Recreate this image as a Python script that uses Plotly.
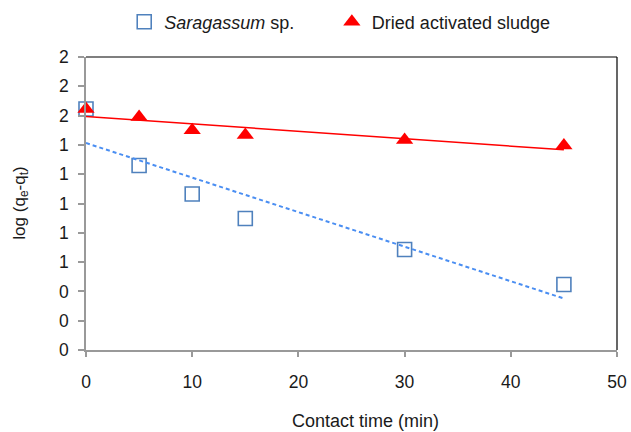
import numpy as np
import plotly.graph_objects as go

# Data
time_min = [0, 5, 10, 15, 30, 45]
saragassum = [1.645, 1.259, 1.065, 0.898, 0.686, 0.447]
sludge = [1.645, 1.59, 1.50, 1.468, 1.433, 1.396]
y_tick_vals = [0, 0.2, 0.4, 0.6, 0.8, 1.0, 1.2, 1.4, 1.6, 1.8, 2.0]
y_tick_text = ["0", "0", "0", "1", "1", "1", "1", "1", "2", "2", "2"]
x_tick_vals = [0, 10, 20, 30, 40, 50]

FONT = "Liberation Sans, Arial, sans-serif"
BLUE = "#4F81BD"
BLUE_LINE = "#4A8EF2"
RED = "#FF0000"

fig = go.Figure()

fig.add_trace(go.Scatter(
    x=time_min, y=saragassum, mode="markers",
    name="<i>Saragassum</i> sp.", legend="legend",
    marker=dict(symbol="square-open", size=14, color=BLUE, line=dict(width=1.6, color=BLUE)),
    cliponaxis=False,
))
fig.add_trace(go.Scatter(
    x=time_min, y=sludge, mode="markers",
    name="Dried activated sludge", legend="legend2",
    marker=dict(symbol="triangle-up", size=15, color=RED, line=dict(width=0)),
    cliponaxis=False,
))

# Linear trendlines
xs = np.array(time_min, dtype=float)
xl = np.array([xs.min(), xs.max()])
p1 = np.polyfit(xs, saragassum, 1)
p2 = np.polyfit(xs, sludge, 1)
fig.add_trace(go.Scatter(
    x=xl, y=np.polyval(p1, xl), mode="lines", showlegend=False,
    line=dict(color=BLUE_LINE, width=2, dash="4px,3px"), hoverinfo="skip",
))
fig.add_trace(go.Scatter(
    x=xl, y=np.polyval(p2, xl), mode="lines", showlegend=False,
    line=dict(color=RED, width=1.5), hoverinfo="skip",
))

leg_common = dict(orientation="h", yref="container", y=0.949, yanchor="middle",
                  xanchor="left", font=dict(size=18), itemwidth=30,
                  bgcolor="rgba(0,0,0,0)")

fig.update_layout(
    width=631, height=432,
    margin=dict(l=86, r=14, t=57, b=82, autoexpand=False),
    paper_bgcolor="white", plot_bgcolor="white",
    font=dict(family=FONT, size=18, color="#1a1a1a"),
    showlegend=True,
    legend=dict(x=0.072, **leg_common),
    legend2=dict(x=0.463, **leg_common),
    xaxis=dict(range=[0, 50], tickvals=x_tick_vals, showgrid=False, zeroline=False,
               showline=True, linecolor="#999999", linewidth=1.5,
               ticks="outside", ticklen=5, tickcolor="#999999", tickwidth=1.5,
               ticklabelstandoff=10, tickfont=dict(size=17.5)),
    yaxis=dict(range=[0, 2.0], tickvals=y_tick_vals, ticktext=y_tick_text,
               showgrid=False, zeroline=False,
               showline=True, linecolor="#999999", linewidth=1.5,
               ticks="outside", ticklen=6, tickcolor="#999999", tickwidth=1.5,
               ticklabelstandoff=6, tickfont=dict(size=17.5)),
    shapes=[
        dict(type="line", xref="paper", yref="paper", x0=0, x1=1, y0=1, y1=1,
             line=dict(color="black", width=1.2), layer="below"),
        dict(type="line", xref="paper", yref="paper", x0=1, x1=1, y0=0, y1=1,
             line=dict(color="black", width=1.2), layer="below"),
    ],
    annotations=[
        dict(text="Contact time (min)", xref="paper", yref="paper", x=0.527, y=-0.243,
             xanchor="center", yanchor="middle", showarrow=False, font=dict(size=18)),
        dict(text="log (q<sub>e</sub>-q<sub>t</sub>)", xref="paper", yref="paper",
             x=-0.124, y=0.5, xanchor="center", yanchor="middle", textangle=-90,
             showarrow=False, font=dict(size=17)),
    ],
)

fig.write_html("out.html")
